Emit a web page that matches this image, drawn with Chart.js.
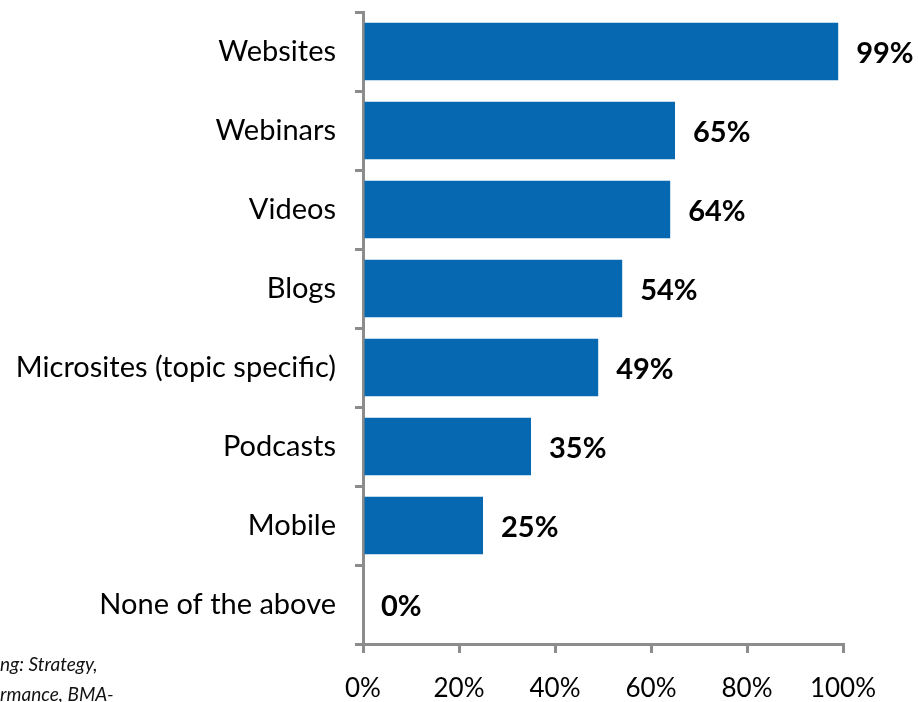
<!DOCTYPE html>
<html>
<head>
<meta charset="utf-8">
<script src="https://cdn.jsdelivr.net/npm/chart.js@4"></script>
<style>
  html, body { margin: 0; padding: 0; background: #fff; }
  #wrap { position: relative; width: 918px; height: 702px; overflow: hidden; }
  .fuente { position: absolute; left: 0; font-family: Lato, sans-serif; font-style: italic; font-size: 19px; color: #111; white-space: nowrap; }
</style>
</head>
<body>
<div id="wrap">
  <canvas id="grafico" width="918" height="702"></canvas>
  <div class="fuente" style="top:652px">ng: Strategy,</div>
  <div class="fuente" style="top:682px">rmance, BMA-</div>
</div>
<script>
// datos del gráfico
var categorias = ['Websites', 'Webinars', 'Videos', 'Blogs', 'Microsites (topic specific)', 'Podcasts', 'Mobile', 'None of the above'];
var valores = [99, 65, 64, 54, 49, 35, 25, 0];
var etiquetasX = ['0%', '20%', '40%', '60%', '80%', '100%'];

var fuente = 'Lato, sans-serif';
var gris = '#8c8c8c';

// etiquetas de valor al final de cada barra
var etiquetasValor = {
    id: 'etiquetasValor',
    afterDatasetsDraw: function (chart) {
        var ctx = chart.ctx;
        var meta = chart.getDatasetMeta(0);
        ctx.save();
        ctx.font = 'bold 29px ' + fuente;
        ctx.fillStyle = '#000';
        ctx.textBaseline = 'middle';
        ctx.textAlign = 'left';
        meta.data.forEach(function (barra, i) {
            ctx.fillText(valores[i] + '%', barra.x + 18, barra.y + 2);
        });
        ctx.restore();
    }
};

var ctxGrafico = document.getElementById('grafico').getContext('2d');
var grafico = new Chart(ctxGrafico, {
    type: 'bar',
    data: {
        labels: categorias,
        datasets: [{
            data: valores,
            backgroundColor: '#0568b0',
            borderWidth: 0,
            categoryPercentage: 1,
            barPercentage: 0.73
        }]
    },
    options: {
        indexAxis: 'y',
        responsive: false,
        animation: false,
        layout: { padding: { top: 12, right: 75, left: 0, bottom: 0 } },
        plugins: { legend: { display: false }, tooltip: { enabled: false } },
        scales: {
            x: {
                min: 0,
                max: 100,
                afterFit: function (escala) {
                    escala.height = 58;
                    escala.paddingLeft = 0;
                    escala.paddingRight = 0;
                },
                ticks: {
                    stepSize: 20,
                    padding: 20,
                    color: '#000',
                    font: { family: fuente, size: 26 },
                    callback: function (v, i) { return etiquetasX[i]; }
                },
                grid: { drawOnChartArea: false, color: gris, lineWidth: 3, tickLength: 9 },
                border: { color: gris, width: 3 }
            },
            y: {
                afterFit: function (escala) {
                    escala.width = 363;
                    escala.paddingTop = 0;
                    escala.paddingBottom = 0;
                },
                ticks: {
                    padding: 19,
                    color: '#000',
                    font: { family: fuente, size: 29 }
                },
                grid: { drawOnChartArea: false, offset: true, color: gris, lineWidth: 3, tickLength: 8 },
                border: { color: gris, width: 3 }
            }
        }
    },
    plugins: [etiquetasValor]
});
</script>
</body>
</html>
